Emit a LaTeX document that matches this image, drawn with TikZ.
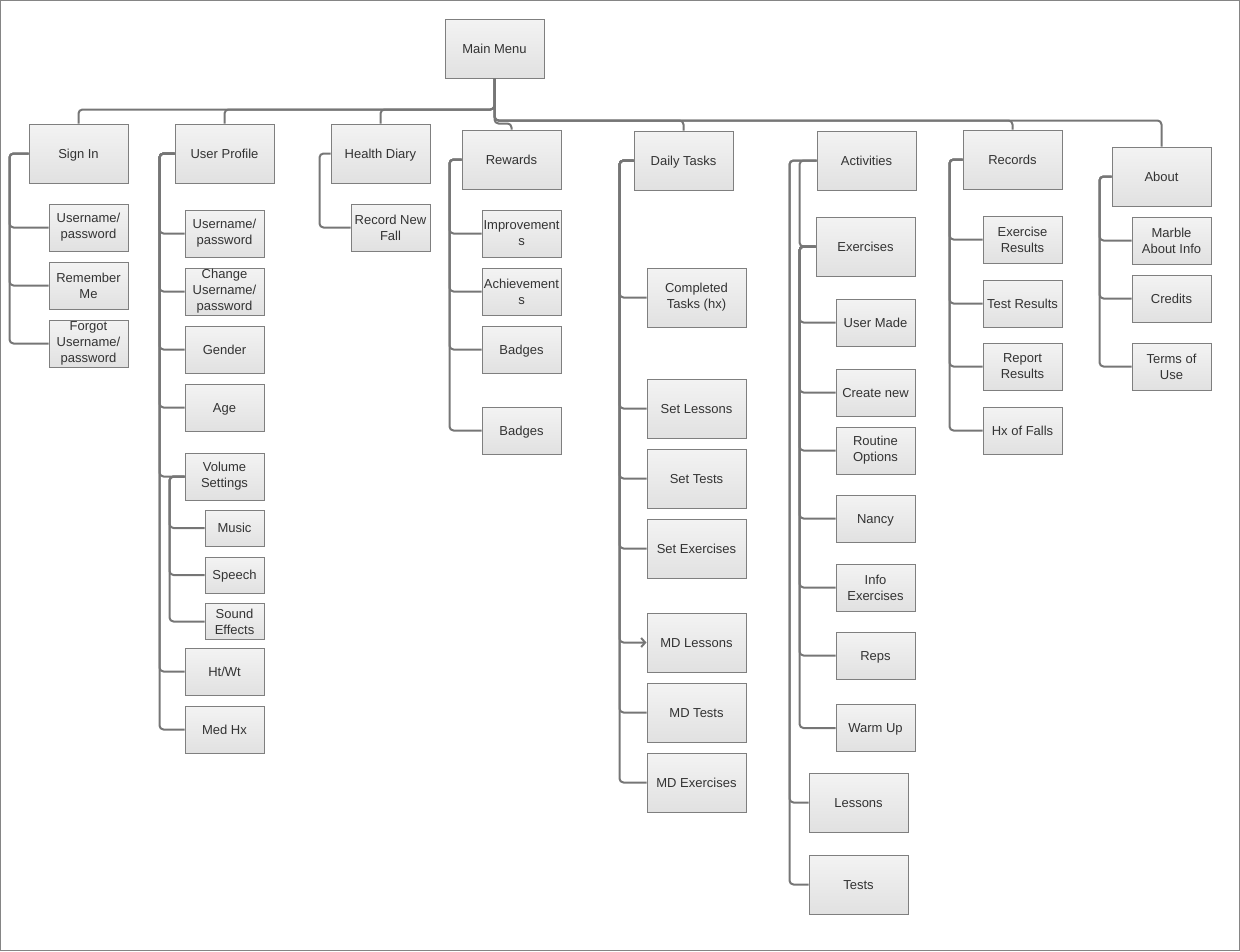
\documentclass[tikz,border=0pt]{standalone}
\usepackage{fontspec}
\setmainfont{Liberation Sans}
\usetikzlibrary{arrows.meta}
\definecolor{boxline}{HTML}{7F7F7F}
\definecolor{boxtop}{HTML}{F3F3F3}
\definecolor{boxbot}{HTML}{E1E1E1}
\definecolor{txt}{HTML}{333333}
\definecolor{lineclr}{HTML}{767676}
\definecolor{frameclr}{HTML}{858585}
\tikzset{
  box/.style={draw=boxline, line width=1pt, top color=boxtop, bottom color=boxbot,
    text=txt, font=\fontsize{13}{16}\selectfont, align=center, inner sep=1pt,
    text height=12pt, text depth=2.7pt},
  ml/.style={text height=, text depth=},
  big/.style={box, minimum width=99pt, minimum height=59pt},
  small/.style={box, minimum width=79pt, minimum height=47pt},
  tiny/.style={box, minimum width=59pt, minimum height=36pt},
  conn/.style={draw=lineclr, line width=2pt, rounded corners=4pt},
}
\begin{document}
\begin{tikzpicture}[x=1pt, y=-1pt]
\useasboundingbox (0,0) rectangle (1240,951);
\draw[frameclr, line width=1pt] (0.5,0.5) rectangle (1239.5,950.5);

% top level
\node[big] (mm) at (494.5,48.5) {Main Menu};
\node[big] (si) at (78.5,153.5) {Sign In};
\node[big] (up) at (224.5,153.5) {User Profile};
\node[big] (hd) at (380.5,153.5) {Health Diary};
\node[big] (rw) at (511.5,159.5) {Rewards};
\node[big] (dt) at (683.5,160.5) {Daily Tasks};
\node[big] (ac) at (866.5,160.5) {Activities};
\node[big] (rc) at (1012.5,159.5) {Records};
\node[big] (ab) at (1161.5,176.5) {About};

% sign in
\node[small, ml] (si1) at (88.5,227.5) {Username/\\password};
\node[small, ml] (si2) at (88.5,285.5) {Remember\\Me};
\node[small, ml] (si3) at (88.5,343.5) {Forgot\\Username/\\password};

% user profile
\node[small, ml] (up1) at (224.5,233.5) {Username/\\password};
\node[small, ml] (up2) at (224.5,291.5) {Change\\Username/\\password};
\node[small] (up3) at (224.5,349.5) {Gender};
\node[small] (up4) at (224.5,407.5) {Age};
\node[small, ml] (up5) at (224.5,476.5) {Volume\\Settings};
\node[tiny] (vs1) at (234.5,528) {Music};
\node[tiny] (vs2) at (234.5,575) {Speech};
\node[tiny, ml] (vs3) at (234.5,621.5) {Sound\\Effects};
\node[small] (up6) at (224.5,671.5) {Ht/Wt};
\node[small] (up7) at (224.5,729.5) {Med Hx};

% health diary
\node[small, ml] (hd1) at (390.5,227.5) {Record New\\Fall};

% rewards
\node[small, ml] (rw1) at (521.5,233.5) {Improvement\\s};
\node[small, ml] (rw2) at (521.5,291.5) {Achievement\\s};
\node[small] (rw3) at (521.5,349.5) {Badges};
\node[small] (rw4) at (521.5,430.5) {Badges};

% daily tasks
\node[big, ml] (dt1) at (696.5,297.5) {Completed\\Tasks (hx)};
\node[big] (dt2) at (696.5,408.5) {Set Lessons};
\node[big] (dt3) at (696.5,478.5) {Set Tests};
\node[big] (dt4) at (696.5,548.5) {Set Exercises};
\node[big] (dt5) at (696.5,642.5) {MD Lessons};
\node[big] (dt6) at (696.5,712.5) {MD Tests};
\node[big] (dt7) at (696.5,782.5) {MD Exercises};

% activities
\node[big] (ex) at (865.5,246.5) {Exercises};
\node[small] (ex1) at (875.5,322.5) {User Made};
\node[small] (ex2) at (875.5,392.5) {Create new};
\node[small, ml] (ex3) at (875.5,450.5) {Routine\\Options};
\node[small] (ex4) at (875.5,518.5) {Nancy};
\node[small, ml] (ex5) at (875.5,587.5) {Info\\Exercises};
\node[small] (ex6) at (875.5,655.5) {Reps};
\node[small] (ex7) at (875.5,728) {Warm Up};
\node[big] (ls) at (858.5,802.5) {Lessons};
\node[big] (ts) at (858.5,884.5) {Tests};

% records
\node[small, ml] (rc1) at (1022.5,239.5) {Exercise\\Results};
\node[small] (rc2) at (1022.5,303.5) {Test Results};
\node[small, ml] (rc3) at (1022.5,366.5) {Report\\Results};
\node[small] (rc4) at (1022.5,430.5) {Hx of Falls};

% about
\node[small, ml] (ab1) at (1171.5,240.5) {Marble\\About Info};
\node[small] (ab2) at (1171.5,298.5) {Credits};
\node[small, ml] (ab3) at (1171.5,366.5) {Terms of\\Use};

% main menu connectors
\foreach \n in {si,up,hd} \draw[conn] (mm.south) -- ++(0,31) -| (\n.north);
\draw[conn] (mm.south) -- ++(0,45) -| (rw.north);
\foreach \n in {dt,rc,ab} \draw[conn] (mm.south) -- ++(0,42) -| (\n.north);

% children connectors
\foreach \n in {si1,si2,si3} \draw[conn] (si.west) -- ++(-19,0) |- (\n.west);
\foreach \n in {up1,up2,up3,up4,up5,up6,up7} \draw[conn] (up.west) -- ++(-15,0) |- (\n.west);
\foreach \n in {vs1,vs2,vs3} \draw[conn] (up5.west) -- ++(-15,0) |- (\n.west);
\draw[conn] (hd.west) -- ++(-11,0) |- (hd1.west);
\foreach \n in {rw1,rw2,rw3,rw4} \draw[conn] (rw.west) -- ++(-12,0) |- (\n.west);
\foreach \n in {dt1,dt2,dt3,dt4,dt6,dt7} \draw[conn] (dt.west) -- ++(-14,0) |- (\n.west);
\draw[conn, -{Straight Barb[length=4pt,width=9pt]}] (dt.west) -- ++(-14,0) |- (dt5.west);
\draw[conn] (ac.west) -- ++(-17,0) |- (ex.west);
\foreach \n in {ls,ts} \draw[conn] (ac.west) -- ++(-27,0) |- (\n.west);
\foreach \n in {ex1,ex2,ex3,ex4,ex5,ex6,ex7} \draw[conn] (ex.west) -- ++(-16,0) |- (\n.west);
\foreach \n in {rc1,rc2,rc3,rc4} \draw[conn] (rc.west) -- ++(-13,0) |- (\n.west);
\foreach \n in {ab1,ab2,ab3} \draw[conn] (ab.west) -- ++(-12,0) |- (\n.west);
\end{tikzpicture}
\end{document}
